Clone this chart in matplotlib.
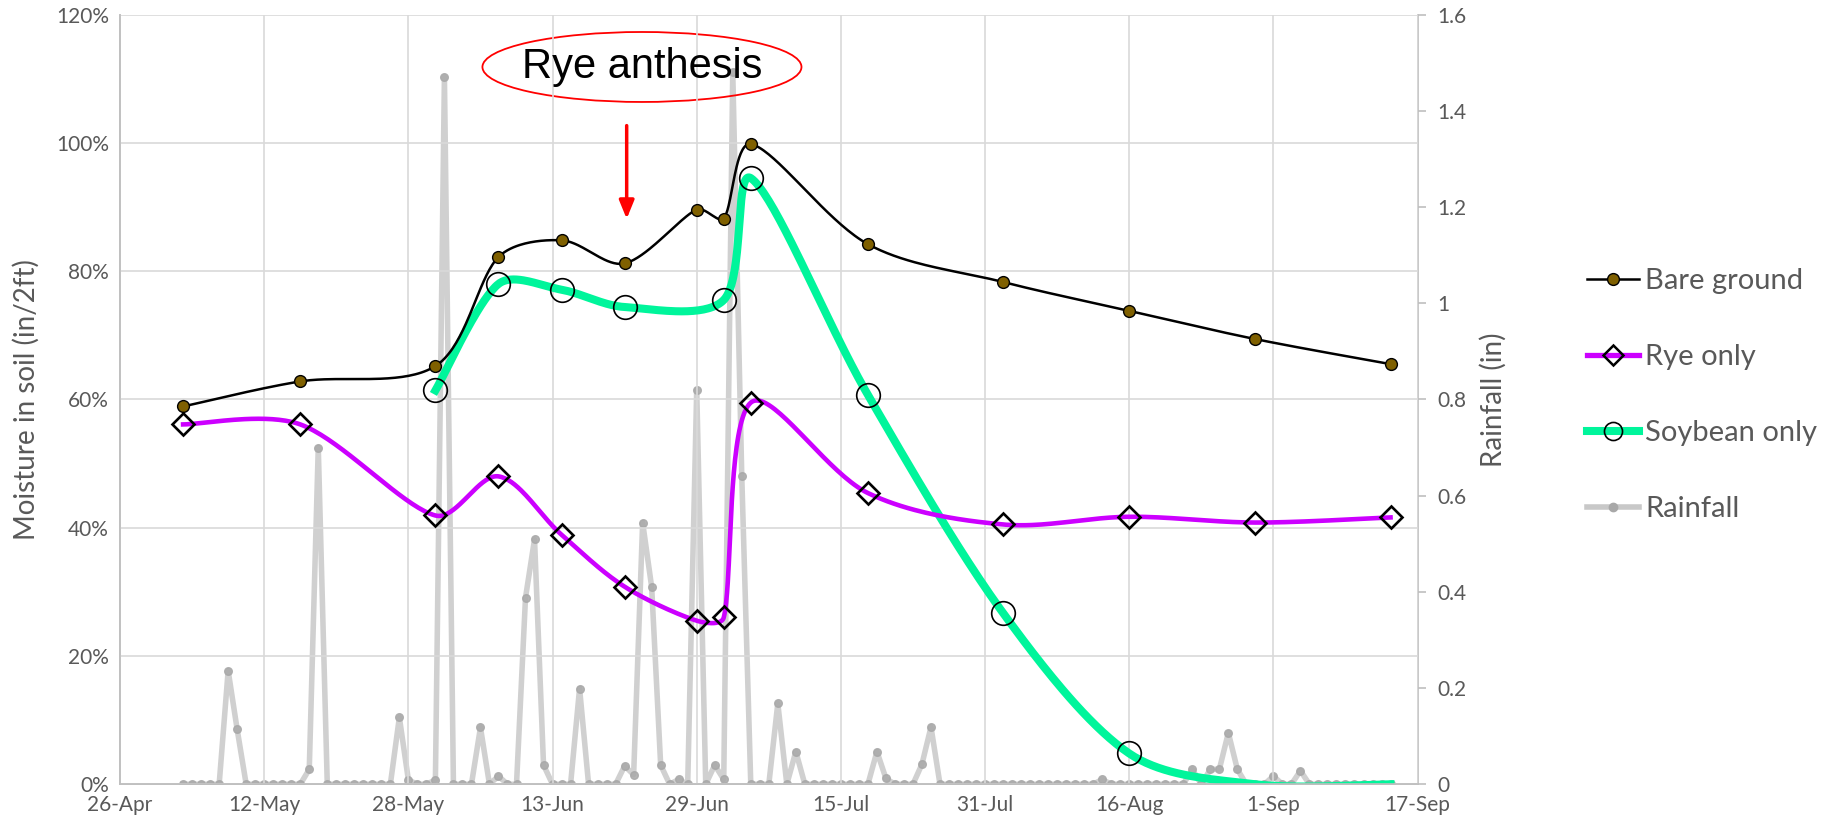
import numpy as np
import pandas as pd
import matplotlib
matplotlib.use("Agg")
import matplotlib.pyplot as plt
import matplotlib.dates as mdates
from matplotlib.lines import Line2D
from matplotlib.patches import Ellipse

# soil moisture sampling dates and values (% of in/2ft)
moist_dates = pd.to_datetime(["2019-05-03", "2019-05-16", "2019-05-31", "2019-06-07",
                              "2019-06-14", "2019-06-21", "2019-06-29", "2019-07-02",
                              "2019-07-05", "2019-07-18", "2019-08-02", "2019-08-16",
                              "2019-08-30", "2019-09-14"])
bare_ground = [58.9, 62.8, 65.2, 82.2, 84.8, 81.2, 89.6, 88.2, 99.8, 84.2, 78.3, 73.8, 69.4, 65.5]
rye_only = [56.1, 56.1, 41.9, 48.0, 38.9, 30.8, 25.5, 26.0, 59.5, 45.4, 40.5, 41.7, 40.8, 41.6]

soy_dates = pd.to_datetime(["2019-05-31", "2019-06-07", "2019-06-14", "2019-06-21",
                            "2019-07-02", "2019-07-05", "2019-07-18", "2019-08-02",
                            "2019-08-16", "2019-08-30", "2019-09-14"])
soybean_only = [61.4, 78.0, 77.1, 74.4, 75.5, 94.5, 60.7, 26.7, 4.8, 0.0, 0.0]
soy_marked = 9  # last two points have no marker

# daily rainfall (in), 3 May - 14 Sep
rain_dates = pd.date_range("2019-05-03", "2019-09-14", freq="D")
rainfall = [
    0, 0, 0, 0, 0, 0.236, 0.114, 0, 0, 0,
    0, 0, 0, 0, 0.031, 0.70, 0, 0, 0, 0,
    0, 0, 0, 0, 0.139, 0.009, 0, 0, 0.009, 1.47,
    0, 0, 0, 0.118, 0, 0.017, 0, 0, 0.388, 0.509,
    0.040, 0, 0, 0, 0.199, 0, 0, 0, 0, 0.038,
    0.02, 0.544, 0.41, 0.04, 0, 0.01, 0, 0.82, 0, 0.04,
    0.01, 1.48, 0.64, 0, 0, 0, 0.168, 0, 0.068, 0,
    0, 0, 0, 0, 0, 0, 0, 0.068, 0.012, 0,
    0, 0, 0.042, 0.119, 0, 0, 0, 0, 0, 0,
    0, 0, 0, 0, 0, 0, 0, 0, 0, 0,
    0, 0, 0.01, 0, 0, 0, 0, 0, 0, 0,
    0, 0, 0.031, 0, 0.031, 0.031, 0.107, 0.031, 0, 0,
    0, 0.017, 0, 0, 0.028, 0, 0, 0, 0, 0,
    0, 0, 0, 0, 0,
]

x_ticks = pd.date_range("2019-04-26", "2019-09-17", freq="16D")

# pixel size of one day / one percent, used to measure segment lengths on screen
PX_DAY = 9.0
PX_PCT = 6.4


def smooth(dates, vals, n=40):
    # Excel-like smoothed line: Bezier segments, tangents scaled by segment length
    x = mdates.date2num(dates)
    y = np.asarray(vals, dtype=float)
    P = np.column_stack([x, y])
    P = np.vstack([P[0], P, P[-1]])
    scr = P * [PX_DAY, PX_PCT]
    d = np.hypot(*np.diff(scr, axis=0).T)
    t = np.linspace(0, 1, n)[:, None]
    xs, ys = [], []
    for i in range(1, len(P) - 2):
        seg_len = d[i]
        f1 = 2 * seg_len / (d[i - 1] + seg_len) if d[i - 1] + seg_len > 0 else 1
        f2 = 2 * seg_len / (seg_len + d[i + 1]) if seg_len + d[i + 1] > 0 else 1
        b0 = P[i]
        b1 = P[i] + (P[i + 1] - P[i - 1]) / 6 * min(f1, 1.0)
        b2 = P[i + 1] - (P[i + 2] - P[i]) / 6 * min(f2, 1.0)
        b3 = P[i + 1]
        seg = ((1 - t) ** 3 * b0 + 3 * (1 - t) ** 2 * t * b1
               + 3 * (1 - t) * t ** 2 * b2 + t ** 3 * b3)
        xs.append(seg[:, 0])
        ys.append(seg[:, 1])
    return mdates.num2date(np.concatenate(xs)), np.concatenate(ys)


plt.rcParams["font.family"] = ["Lato", "DejaVu Sans"]
grey = "#595959"

fig = plt.figure(figsize=(18.41, 8.30), dpi=100)
ax = fig.add_axes([0.0652, 0.0551, 0.7048, 0.9274])
ax2 = ax.twinx()
ax.set_zorder(ax2.get_zorder() + 1)
ax.patch.set_visible(False)

# rainfall, secondary axis, behind everything
ax2.plot(rain_dates, rainfall, color="#c8c8c8", lw=4, alpha=0.85,
         marker="o", ms=5.5, mfc="#a8a8a8", mec="#a8a8a8", solid_joinstyle="round")
ax2.set_ylim(0, 1.6)
ax2.set_yticks(np.arange(0, 1.61, 0.2))
ax2.set_yticklabels(["0", "0.2", "0.4", "0.6", "0.8", "1", "1.2", "1.4", "1.6"])
ax2.tick_params(axis="y", colors=grey, labelsize=15, length=6, width=1.2, color="#bfbfbf", pad=8)
ax2.set_ylabel("Rainfall (in)", fontsize=20, color=grey, labelpad=10)

# soil moisture lines
sx, sy = smooth(moist_dates, bare_ground)
ax.plot(sx, sy, color="black", lw=1.8, zorder=4)
ax.plot(moist_dates, bare_ground, ls="none", marker="o", ms=8.5,
        mfc="#7f6000", mec="black", mew=1, zorder=6)

sx, sy = smooth(moist_dates, rye_only)
ax.plot(sx, sy, color="#cc00ff", lw=3.3, zorder=3)
ax.plot(moist_dates, rye_only, ls="none", marker="D", ms=11.5, mfc="none",
        mec="black", mew=1.9, zorder=6)

sx, sy = smooth(soy_dates, soybean_only)
ax.plot(sx, sy, color="#00f59b", lw=5.8, zorder=2)
ax.plot(soy_dates[:soy_marked], soybean_only[:soy_marked], ls="none", marker="o", ms=17,
        mfc="none", mec="black", mew=1.2, zorder=6)

ax.set_ylim(0, 120)
ax.set_yticks(range(0, 121, 20))
ax.yaxis.set_major_formatter(plt.FuncFormatter(lambda v, p: f"{v:.0f}%"))
ax.set_xlim(x_ticks[0], x_ticks[-1])
ax.set_xticks(x_ticks)
ax.set_xticklabels([f"{d.day}-{d.strftime('%b')}" for d in x_ticks])
ax.tick_params(axis="both", colors=grey, labelsize=15, length=0, pad=8)
ax.set_ylabel("Moisture in soil (in/2ft)", fontsize=20, color=grey, labelpad=12)

ax.grid(True, color="#d9d9d9", lw=1.2)
ax2.grid(False)
for a in (ax, ax2):
    a.spines["top"].set_visible(False)
    for s in ("left", "right", "bottom"):
        a.spines[s].set_color("#bfbfbf")
        a.spines[s].set_linewidth(1.2)
ax.spines["right"].set_visible(False)

handles = [
    Line2D([], [], color="black", lw=1.8, marker="o", ms=8.5, mfc="#7f6000", mec="black"),
    Line2D([], [], color="#cc00ff", lw=3.8, marker="D", ms=10, mfc="none", mec="black", mew=1.8),
    Line2D([], [], color="#00f59b", lw=5.8, marker="o", ms=13, mfc="none", mec="black", mew=1.2),
    Line2D([], [], color="#c8c8c8", lw=4, marker="o", ms=6, mfc="#a8a8a8", mec="#a8a8a8"),
]
fig.legend(handles, ["Bare ground", "Rye only", "Soybean only", "Rainfall"],
           loc="center left", bbox_to_anchor=(0.862, 0.524), frameon=False,
           fontsize=21, labelcolor=grey, handlelength=1.8, handletextpad=0.2,
           labelspacing=1.72, borderpad=0, borderaxespad=0)

# annotation
fig.add_artist(Ellipse((0.3487, 0.9193), 0.1733, 0.0843, transform=fig.transFigure,
                       facecolor="none", edgecolor="red", lw=1.3))
fig.text(0.3487, 0.9193, "Rye anthesis", ha="center", va="center", fontsize=30,
         family=["Liberation Sans", "DejaVu Sans"], color="black")
ax.annotate("", xy=(0.3404, 0.733), xytext=(0.3404, 0.852), xycoords="figure fraction",
            textcoords="figure fraction",
            arrowprops=dict(arrowstyle="-|>,head_width=0.45,head_length=1.1", color="red", lw=2.5))

fig.savefig("out.png", dpi=100)
